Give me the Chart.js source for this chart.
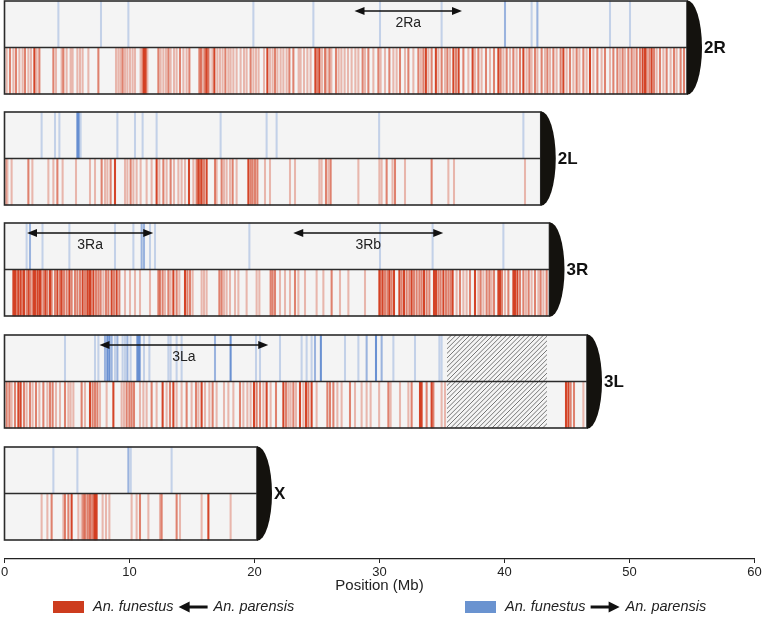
<!DOCTYPE html>
<html lang="en">
<head>
<meta charset="UTF-8">
<title>Introgression along chromosome arms</title>
<script src="https://cdn.jsdelivr.net/npm/chart.js"></script>
<style>
body { margin: 0; background: #fff; }
#chart { display: block; }
</style>
</head>
<body>
<canvas id="chart" width="762" height="617"></canvas>
<script>
// arms, top to bottom, and their lengths (Mb)
const armNames = ['2R', '2L', '3R', '3L', 'X'];
const armLengths = [54.6, 42.9, 43.6, 46.6, 20.2];

// introgressed windows: [position (Mb), strength 1..3]
// red = An. funestus <- An. parensis (lower half), blue = An. funestus -> An. parensis (upper half)
const red2R = [[0.17,1],[0.44,2],[0.71,1],[0.92,2],[1.19,1],[1.45,1],[1.64,2],[1.91,1],[2.12,1],[2.39,3],[2.57,1],[2.79,2],
  [3.91,2],[4.12,1],[4.57,1],[4.71,2],[4.97,1],[5.29,1],[5.45,1],[5.83,1],[6.04,1],[6.25,1],[6.71,1],[7.51,2],
  [8.92,1],[9.11,1],[9.29,1],[9.45,2],[9.64,1],[9.83,1],[10.04,1],[10.25,1],[10.44,1],[10.89,1],[11.05,2],[11.16,3],
  [11.29,3],[11.43,1],[12.31,2],[12.49,1],[12.71,1],[12.92,1],[13.11,2],[13.29,1],[13.56,1],[13.77,1],[14.04,2],
  [14.31,1],[14.57,1],[14.79,2],[15.59,2],[15.72,2],[15.85,1],[16.01,2],[16.15,3],[16.28,2],[16.39,1],[16.63,1],
  [16.79,3],[17.03,1],[17.24,1],[17.45,1],[17.67,2],[17.91,1],[18.09,1],[18.31,1],[18.57,1],[18.89,1],[19.16,1],
  [19.37,1],[19.69,2],[19.91,1],[20.12,1],[20.33,1],[20.76,1],[21.03,3],[21.24,1],[21.45,1],[21.64,2],[21.83,1],
  [22.09,1],[22.31,1],[22.57,1],[22.79,2],[23.11,2],[23.53,1],[23.69,1],[23.96,1],[24.23,1],[24.49,1],[24.87,3],
  [25.03,2],[25.19,3],[25.40,1],[25.64,2],[25.77,1],[25.99,2],[26.15,1],[26.52,2],[26.73,1],[26.95,1],[27.21,1],
  [27.48,1],[27.77,1],[28.07,1],[28.31,1],[28.65,2],[28.84,1],[29.11,2],[29.51,1],[29.91,2],[30.09,1],[30.44,1],
  [30.79,2],[31.11,1],[31.37,1],[31.64,2],[32.04,1],[32.31,2],[32.71,1],[33.11,2],[33.31,1],[33.51,2],[33.71,3],
  [33.91,1],[34.17,2],[34.51,3],[34.71,1],[34.97,2],[35.24,1],[35.43,2],[35.64,1],[35.91,3],[36.12,2],[36.33,3],
  [36.71,2],[37.11,1],[37.45,3],[37.64,1],[37.91,2],[38.17,1],[38.52,2],[38.84,1],[39.16,2],[39.51,3],[39.69,2],
  [39.91,1],[40.17,2],[40.44,1],[40.71,2],[40.97,1],[41.24,2],[41.51,3],[41.77,1],[41.99,2],[42.17,1],[42.44,2],
  [42.63,1],[42.97,2],[43.24,1],[43.43,2],[43.64,1],[43.91,2],[44.17,1],[44.49,2],[44.71,3],[44.97,1],[45.24,2],
  [45.51,1],[45.77,2],[45.99,1],[46.31,2],[46.57,1],[46.84,3],[47.11,1],[47.43,2],[47.77,1],[48.04,2],[48.44,1],
  [48.71,2],[49.03,2],[49.24,1],[49.45,2],[49.64,1],[49.91,2],[50.17,2],[50.36,1],[50.57,2],[50.84,2],[51.05,3],
  [51.24,3],[51.37,2],[51.59,2],[51.77,3],[51.96,2],[52.17,1],[52.44,2],[52.71,1],[52.97,2],[53.29,1],[53.56,2],
  [53.77,1],[54.09,2],[54.36,2]];
const blue2R = [[4.31,1],[7.72,1],[9.91,1],[19.91,1],[24.71,1],[30.04,1],[34.97,1],[40.04,2],[42.17,1],[42.63,2],
  [48.44,1],[50.04,1]];

const red2L = [[0.12,1],[0.23,1],[0.57,1],[1.91,2],[2.23,1],[3.51,1],[3.91,1],[4.23,2],[4.65,1],[5.72,1],[6.84,1],
  [7.24,1],[7.77,2],[8.04,1],[8.23,1],[8.49,2],[8.84,3],[9.64,1],[9.83,1],[10.09,2],[10.31,1],[10.57,1],[10.89,1],
  [11.37,1],[11.77,1],[12.17,3],[12.39,1],[12.71,2],[12.97,1],[13.29,2],[13.56,1],[13.91,1],[14.17,1],[14.44,1],
  [14.76,3],[15.11,1],[15.37,2],[15.51,3],[15.64,2],[15.77,3],[15.96,2],[16.17,3],[16.84,2],[16.97,1],[17.37,2],
  [17.56,1],[17.77,1],[18.04,1],[18.25,2],[18.57,1],[19.51,3],[19.69,2],[19.85,2],[20.04,2],[20.23,2],[20.84,1],
  [21.24,1],[22.84,1],[23.24,1],[25.19,1],[25.37,1],[25.72,2],[25.91,1],[26.09,2],[28.31,1],[29.99,1],[30.17,1],
  [30.57,2],[31.04,1],[31.24,2],[32.04,1],[34.17,2],[35.51,1],[35.96,1],[41.64,1]];
const blue2L = [[2.97,1],[4.04,1],[4.39,1],[5.83,3],[5.93,3],[6.09,1],[9.03,1],[10.44,1],[11.05,1],[12.17,1],
  [17.29,1],[20.97,1],[21.77,1],[29.97,1],[41.51,1]];

const red3R = [[0.71,3],[0.84,3],[0.97,2],[1.11,3],[1.29,3],[1.45,2],[1.56,3],[1.77,2],[1.93,3],[2.09,2],[2.31,3],
  [2.44,3],[2.63,3],[2.79,3],[2.89,3],[3.11,2],[3.27,3],[3.43,2],[3.64,3],[3.77,2],[4.04,2],[4.23,3],[4.44,2],
  [4.57,3],[4.76,2],[4.97,2],[5.19,3],[5.37,2],[5.64,2],[5.83,2],[6.04,2],[6.25,3],[6.44,2],[6.63,3],[6.79,3],
  [6.89,3],[7.11,3],[7.32,2],[7.51,2],[7.69,2],[7.91,1],[8.12,2],[8.31,2],[8.57,3],[8.76,2],[8.97,3],[9.19,2],
  [9.64,1],[10.04,1],[10.44,1],[10.84,1],[11.64,1],[12.31,2],[12.44,2],[12.65,2],[12.84,1],[13.11,2],[13.29,1],
  [13.51,3],[13.77,2],[13.99,1],[14.44,3],[14.63,2],[14.84,2],[15.05,1],[15.77,1],[15.96,1],[16.17,1],[17.19,2],
  [17.37,2],[17.56,1],[17.77,1],[18.04,1],[18.44,1],[18.71,1],[19.37,1],[20.17,1],[20.39,1],[21.29,2],[21.45,2],
  [21.64,2],[22.04,1],[22.44,1],[22.84,1],[23.24,2],[23.51,1],[24.04,1],[24.97,1],[25.51,1],[26.17,2],[26.84,1],
  [27.51,1],[28.84,1],[29.99,3],[30.09,2],[30.25,3],[30.44,2],[30.63,2],[30.79,3],[30.97,2],[31.16,3],[31.59,3],
  [31.77,2],[31.96,3],[32.17,2],[32.39,2],[32.57,3],[32.76,2],[32.97,2],[33.19,2],[33.37,2],[33.56,3],[33.77,2],
  [33.99,2],[34.36,3],[34.52,3],[34.71,2],[34.89,2],[35.11,3],[35.32,2],[35.51,2],[35.69,2],[35.85,3],[36.17,1],
  [36.44,2],[36.71,1],[36.97,1],[37.24,2],[37.64,3],[37.91,1],[38.09,2],[38.31,1],[38.57,2],[38.79,2],[38.97,1],
  [39.16,2],[39.51,3],[39.64,3],[39.80,2],[40.04,1],[40.31,2],[40.71,3],[40.84,3],[41.03,3],[41.24,2],[41.51,2],
  [41.72,1],[41.93,2],[42.17,1],[42.44,2],[42.71,1],[42.89,2],[43.11,1],[43.37,2]];
const blue3R = [[1.77,1],[2.04,2],[3.04,1],[5.19,1],[8.84,1],[10.31,1],[10.97,2],[11.16,2],[11.64,1],[12.04,1],
  [19.59,1],[30.04,1],[34.25,1],[39.91,1]];

const red3L = [[0.17,2],[0.39,2],[0.57,1],[0.84,2],[1.11,3],[1.29,3],[1.56,2],[1.77,1],[2.04,2],[2.25,1],[2.52,2],
  [2.79,1],[3.11,2],[3.43,1],[3.64,2],[3.85,2],[4.12,1],[4.44,1],[4.84,2],[5.11,1],[5.29,1],[5.51,1],[6.17,2],
  [6.44,1],[6.84,3],[7.05,2],[7.24,2],[7.43,2],[7.64,1],[8.17,1],[8.71,3],[9.37,1],[9.56,1],[9.77,2],[9.99,2],
  [10.17,2],[10.36,2],[10.84,1],[11.11,1],[11.37,1],[11.77,2],[12.17,1],[12.65,3],[12.97,1],[13.24,2],[13.51,3],
  [13.77,1],[14.17,1],[14.57,2],[14.97,1],[15.32,2],[15.51,1],[15.77,3],[16.04,1],[16.39,1],[16.65,2],[16.97,1],
  [17.56,1],[17.91,1],[18.31,1],[18.84,2],[19.11,1],[19.43,1],[19.69,1],[19.96,3],[20.17,2],[20.44,2],[20.71,1],
  [20.97,3],[21.29,1],[21.72,2],[22.31,3],[22.52,2],[22.71,1],[22.89,1],[23.11,2],[23.32,1],[23.64,3],[23.91,1],
  [24.12,3],[24.31,2],[24.57,3],[24.97,1],[25.83,2],[26.04,2],[26.31,2],[26.63,1],[26.97,1],[27.64,2],[28.04,1],
  [28.57,1],[28.97,1],[29.29,1],[29.97,1],[30.71,2],[30.89,1],[31.64,1],[32.31,1],[32.57,2],[33.24,3],[33.37,3],
  [33.77,2],[34.17,3],[34.31,2],[34.97,1],[35.24,1],[44.92,3],[45.11,3],[45.29,2],[45.56,2],[46.31,1]];
const blue3L = [[4.84,1],[7.24,1],[7.51,1],[8.04,2],[8.23,3],[8.39,3],[8.57,2],[8.84,1],[9.03,2],[9.45,1],[9.64,1],
  [9.83,2],[10.09,1],[10.63,3],[10.76,3],[10.84,2],[11.16,1],[11.59,1],[13.11,1],[13.29,1],[13.77,1],[14.17,1],
  [16.84,2],[18.09,3],[20.12,1],[20.44,1],[22.04,1],[23.77,1],[24.17,1],[24.57,1],[24.84,2],[25.31,3],[27.24,1],
  [28.31,1],[28.97,2],[29.72,3],[30.17,2],[31.11,1],[32.84,1],[34.79,1],[34.97,1]];

const redX = [[2.97,1],[3.43,1],[3.77,2],[4.71,1],[4.84,2],[5.11,2],[5.37,3],[5.91,1],[6.17,1],[6.31,2],[6.44,2],
  [6.63,2],[6.79,2],[6.89,2],[7.05,2],[7.19,3],[7.27,3],[7.37,3],[7.85,1],[8.12,1],[8.39,1],[10.17,1],[10.57,1],
  [10.84,2],[11.51,1],[12.44,1],[12.57,2],[13.77,2],[14.04,1],[15.77,1],[16.31,3],[18.09,1]];
const blueX = [[3.91,1],[5.83,1],[9.91,2],[10.1,1],[13.37,1]];

const redByArm = [red2R, red2L, red3R, red3L, redX];
const blueByArm = [blue2R, blue2L, blue3R, blue3L, blueX];

// inversions (double arrows) and the unassembled stretch of 3L
const invNames = ['2Ra', '3Ra', '3Rb', '3La'];
const invArms = [0, 2, 2, 3];
const invStarts = [28.0, 1.8, 23.1, 7.6];
const invEnds = [36.6, 11.9, 35.1, 21.1];
const gapArm = 3, gapStart = 35.4, gapEnd = 43.4;

const xTicks = [0, 10, 20, 30, 40, 50, 60];

// layout of the tracks, in the y scale's units
const ROW_TOP = [1, 112, 223, 335, 447];
const ROW_H = 93;
const RED = '210, 58, 28';
const BLUE = '98, 139, 208';
const ALPHA = { 1: 0.33, 2: 0.62, 3: 0.95 };

function makeSet(list, top, bottom, rgb) {
  return {
    data: list.map(p => ({ x: p[0], y: [top, bottom] })),
    backgroundColor: list.map(p => `rgba(${rgb}, ${ALPHA[p[1]]})`),
    borderWidth: 0,
    barThickness: 1.4,
    grouped: false
  };
}

const datasets = [];
armNames.forEach((arm, i) => {
  const top = ROW_TOP[i], mid = top + ROW_H / 2, bottom = top + ROW_H;
  datasets.push(makeSet(blueByArm[i], top, mid, BLUE));
  datasets.push(makeSet(redByArm[i], mid, bottom, RED));
});

function arrowHead(ctx, x, y, dir, len, half) {
  ctx.beginPath();
  ctx.moveTo(x, y);
  ctx.lineTo(x - dir * len, y - half);
  ctx.lineTo(x - dir * len, y + half);
  ctx.closePath();
  ctx.fill();
}

const armPlugin = {
  id: 'arms',
  beforeDatasetsDraw(chart) {
    const { ctx, scales: { x, y } } = chart;
    ctx.save();
    ctx.fillStyle = '#f4f4f4';
    armNames.forEach((arm, i) => {
      const x0 = x.getPixelForValue(0), x1 = x.getPixelForValue(armLengths[i]);
      const y0 = y.getPixelForValue(ROW_TOP[i]), y1 = y.getPixelForValue(ROW_TOP[i] + ROW_H);
      ctx.fillRect(x0, y0, x1 - x0, y1 - y0);
    });
    ctx.restore();
  },
  afterDatasetsDraw(chart) {
    const { ctx, scales: { x, y } } = chart;
    ctx.save();

    // hatched gap on 3L
    const gx0 = x.getPixelForValue(gapStart), gx1 = x.getPixelForValue(gapEnd);
    const gy0 = y.getPixelForValue(ROW_TOP[gapArm]), gy1 = y.getPixelForValue(ROW_TOP[gapArm] + ROW_H);
    ctx.save();
    ctx.beginPath();
    ctx.rect(gx0, gy0, gx1 - gx0, gy1 - gy0);
    ctx.clip();
    ctx.strokeStyle = '#555';
    ctx.lineWidth = 0.8;
    for (let k = gx0 - (gy1 - gy0); k < gx1 + 5; k += 4.6) {
      ctx.beginPath();
      ctx.moveTo(k, gy1);
      ctx.lineTo(k + (gy1 - gy0), gy0);
      ctx.stroke();
    }
    ctx.restore();

    // outlines, centromere caps, arm names
    armNames.forEach((arm, i) => {
      const x0 = x.getPixelForValue(0), x1 = x.getPixelForValue(armLengths[i]);
      const y0 = y.getPixelForValue(ROW_TOP[i]), y1 = y.getPixelForValue(ROW_TOP[i] + ROW_H);
      const ym = (y0 + y1) / 2;
      ctx.strokeStyle = '#2b2b2b';
      ctx.lineWidth = 1.6;
      ctx.strokeRect(x0, y0, x1 - x0, y1 - y0);
      ctx.beginPath();
      ctx.moveTo(x0, ym);
      ctx.lineTo(x1, ym);
      ctx.stroke();
      ctx.fillStyle = '#14120e';
      ctx.beginPath();
      ctx.ellipse(x1, ym, 15, (y1 - y0) / 2 + 0.8, 0, -Math.PI / 2, Math.PI / 2);
      ctx.closePath();
      ctx.fill();
      ctx.fillStyle = '#111';
      ctx.font = 'bold 17px "Liberation Sans", Arial, sans-serif';
      ctx.textAlign = 'left';
      ctx.textBaseline = 'middle';
      ctx.fillText(arm, x1 + 17, ym + 1);
    });

    // inversion arrows
    invNames.forEach((name, j) => {
      const xa = x.getPixelForValue(invStarts[j]), xb = x.getPixelForValue(invEnds[j]);
      const ya = y.getPixelForValue(ROW_TOP[invArms[j]] + 10);
      ctx.strokeStyle = '#111';
      ctx.fillStyle = '#111';
      ctx.lineWidth = 1.6;
      ctx.beginPath();
      ctx.moveTo(xa + 4, ya);
      ctx.lineTo(xb - 4, ya);
      ctx.stroke();
      arrowHead(ctx, xa, ya, -1, 10, 4);
      arrowHead(ctx, xb, ya, 1, 10, 4);
      ctx.fillStyle = '#222';
      ctx.font = '14px "Liberation Sans", Arial, sans-serif';
      ctx.textAlign = 'center';
      ctx.textBaseline = 'middle';
      ctx.fillText(name, (xa + xb) / 2, ya + 12);
    });
    ctx.restore();
  },
  afterDraw(chart) {
    const ctx = chart.ctx;
    ctx.save();
    const ly = 607;
    const items = [
      { x: 53, color: 'rgb(205, 60, 30)', dir: -1 },
      { x: 465, color: 'rgb(106, 147, 208)', dir: 1 }
    ];
    ctx.font = 'italic 14.5px "Liberation Sans", Arial, sans-serif';
    ctx.textBaseline = 'middle';
    ctx.textAlign = 'left';
    items.forEach(it => {
      ctx.fillStyle = it.color;
      ctx.fillRect(it.x, ly - 6, 31, 12);
      let tx = it.x + 40;
      ctx.fillStyle = '#222';
      ctx.fillText('An. funestus', tx, ly);
      tx += ctx.measureText('An. funestus').width + 5;
      const ax0 = tx, ax1 = tx + 29;
      ctx.strokeStyle = '#111';
      ctx.fillStyle = '#111';
      ctx.lineWidth = 3;
      ctx.beginPath();
      ctx.moveTo(it.dir < 0 ? ax0 + 8 : ax0, ly);
      ctx.lineTo(it.dir < 0 ? ax1 : ax1 - 8, ly);
      ctx.stroke();
      arrowHead(ctx, it.dir < 0 ? ax0 : ax1, ly, it.dir, 11, 5.5);
      ctx.fillStyle = '#222';
      ctx.fillText('An. parensis', ax1 + 6, ly);
    });
    ctx.restore();
  }
};

new Chart(document.getElementById('chart'), {
  type: 'bar',
  data: { datasets },
  plugins: [armPlugin],
  options: {
    responsive: false,
    animation: false,
    events: [],
    layout: { padding: { left: 4.5, right: 7.5, top: 0, bottom: 23.5 } },
    plugins: { legend: { display: false }, tooltip: { enabled: false } },
    scales: {
      x: {
        type: 'linear',
        min: 0,
        max: 60,
        offset: false,
        afterBuildTicks: s => { s.ticks = xTicks.map(v => ({ value: v })); },
        afterFit: s => { s.paddingLeft = 0; s.paddingRight = 0; },
        ticks: { color: '#222', padding: 3, font: { size: 13, lineHeight: 1, family: '"Liberation Sans", Arial, sans-serif' } },
        grid: { display: true, offset: false, drawOnChartArea: false, drawTicks: true, tickLength: 4, color: '#222', lineWidth: 1 },
        border: { display: true, color: '#222', width: 1.2 },
        title: { display: true, text: 'Position (Mb)', color: '#222', padding: { top: -3.5, bottom: 0 },
          font: { size: 15, lineHeight: 1, family: '"Liberation Sans", Arial, sans-serif' } }
      },
      y: {
        type: 'linear',
        display: false,
        reverse: true,
        min: 0,
        max: 559
      }
    }
  }
});
</script>
</body>
</html>
